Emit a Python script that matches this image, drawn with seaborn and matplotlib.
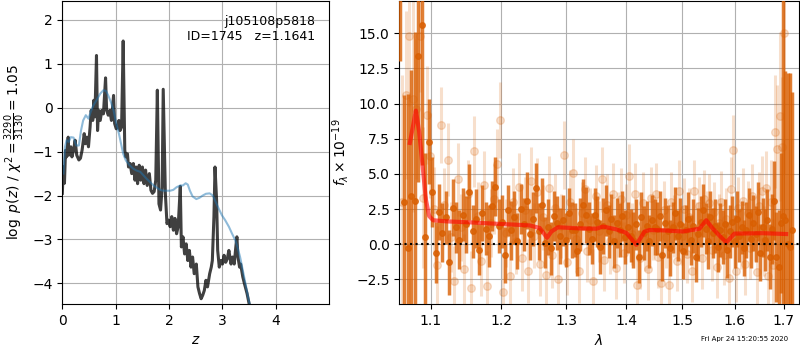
import numpy as np
import seaborn as sns
import matplotlib.pyplot as plt
from matplotlib.ticker import FixedLocator, NullLocator, FormatStrFormatter, MultipleLocator

# 左图: log p(z)
z_pz = [0.00, 0.02, 0.04, 0.06, 0.08, 0.11, 0.12, 0.16, 0.18, 0.21, 0.24, 0.27, 0.31, 0.34,
        0.37, 0.41, 0.43, 0.46, 0.49, 0.52, 0.54, 0.57, 0.59, 0.61, 0.64, 0.66, 0.68, 0.71,
        0.74, 0.77, 0.81, 0.83, 0.86, 0.89, 0.92, 0.96, 0.98, 1.01, 1.03, 1.06, 1.08, 1.11,
        1.14, 1.17, 1.19, 1.22, 1.24, 1.27, 1.30, 1.33, 1.36, 1.38, 1.41, 1.44, 1.47, 1.50,
        1.53, 1.56, 1.59, 1.63, 1.66, 1.69, 1.72, 1.75, 1.78, 1.81, 1.84, 1.87, 1.89, 1.93,
        1.96, 1.99, 2.02, 2.05, 2.08, 2.11, 2.14, 2.17, 2.21, 2.23, 2.26, 2.29, 2.32, 2.35,
        2.38, 2.41, 2.44, 2.47, 2.51, 2.54, 2.57, 2.60, 2.63, 2.66, 2.69, 2.72, 2.76, 2.79,
        2.81, 2.84, 2.86, 2.89, 2.91, 2.94, 2.97, 3.00, 3.03, 3.06, 3.09, 3.12, 3.16, 3.19,
        3.22, 3.25, 3.27, 3.29, 3.32, 3.34, 3.38, 3.41, 3.46, 3.50, 3.53]
logpz = [-1.95, -1.35, -1.72, -0.97, -1.12, -0.67, -1.08, -0.89, -1.12, -0.97, -0.74, -1.08,
         -1.19, -1.15, -0.97, -0.59, -0.82, -0.67, -0.89, -0.44, -0.06, -0.29, 0.17, -0.21,
         1.19, -0.52, -0.06, -0.29, -0.06, -0.14, 0.68, -0.06, -0.17, -0.06, -0.29, 0.28,
         -0.36, -0.48, -0.44, -0.29, -0.52, -0.44, 1.52, -0.97, -1.12, -1.05, -1.35, -1.27,
         -1.50, -1.27, -1.65, -1.35, -1.73, -1.31, -1.65, -1.35, -1.73, -1.42, -1.77, -1.50,
         -1.88, -1.95, -1.91, -1.65, 0.40, -2.19, -2.33, -1.81, 0.42, -1.95, -2.64, -2.56,
         -2.71, -2.48, -2.79, -2.52, -2.87, -2.71, -1.79, -3.17, -2.94, -3.33, -3.10, -3.48,
         -3.25, -3.63, -3.40, -3.78, -3.56, -4.08, -4.23, -4.35, -4.27, -4.16, -3.93, -4.08,
         -3.78, -3.63, -3.48, -2.48, -1.35, -2.11, -3.25, -3.63, -3.48, -3.56, -3.36, -3.52,
         -3.44, -3.25, -3.56, -3.40, -3.56, -3.17, -2.94, -3.40, -3.63, -3.56, -3.85, -4.00,
         -4.23, -4.47, -4.70]

z_prior = [0.02, 0.05, 0.08, 0.12, 0.16, 0.21, 0.26, 0.31, 0.35, 0.39, 0.44, 0.49, 0.53,
           0.58, 0.64, 0.71, 0.77, 0.82, 0.86, 0.91, 0.96, 1.01, 1.06, 1.10, 1.14, 1.19,
           1.26, 1.33, 1.39, 1.46, 1.52, 1.58, 1.64, 1.71, 1.77, 1.83, 1.89, 1.96, 2.02,
           2.08, 2.14, 2.21, 2.26, 2.31, 2.35, 2.39, 2.44, 2.51, 2.57, 2.63, 2.69, 2.76,
           2.82, 2.86, 2.93, 2.99, 3.05, 3.12, 3.18, 3.24, 3.28, 3.33, 3.38, 3.43, 3.48, 3.52]
log_prior = [-1.50, -0.89, -0.74, -0.78, -0.67, -0.68, -0.86, -0.86, -0.52, -0.29, -0.17,
             -0.25, -0.10, 0.05, 0.17, 0.32, 0.40, 0.38, 0.28, 0.13, -0.06, -0.36, -0.59,
             -0.82, -1.05, -1.20, -1.31, -1.39, -1.43, -1.46, -1.54, -1.62, -1.69, -1.77,
             -1.82, -1.87, -1.89, -1.89, -1.89, -1.87, -1.81, -1.77, -1.77, -1.72, -1.75,
             -1.89, -2.02, -2.08, -2.05, -2.00, -1.96, -1.95, -2.00, -2.11, -2.30, -2.45,
             -2.56, -2.71, -2.87, -3.02, -3.17, -3.40, -3.70, -4.00, -4.31, -4.53]

# 右图: 光谱 (等间隔波长像素)
wave_start_dark, wave_start_light, wave_step = 1.0595, 1.0618, 0.0047
flux_dark = [20.0, 3.0, -0.3, 3.4, 3.1, 13.4, 15.6, 0.5, 7.3, 3.7,
             -0.6, 2.3, 0.8, 1.9, -1.3, 2.6, 1.2, 0.3, 2.1, 1.4,
             3.7, 0.9, 1.8, -0.4, 2.2, 1.1, 0.6, 2.7, 4.1, 1.3,
             1.6, -0.8, 2.4, 1.0, 1.9, 0.2, 2.5, 1.4, 3.1, 0.7,
             1.8, 4.0, 0.9, 2.8, 0.1, 1.2, -0.3, 2.0, 1.5, 0.6,
             1.7, 0.3, 2.2, 1.0, 1.0, -0.5, 1.4, 2.8, 2.1, 1.1,
             0.4, 2.1, 1.6, -0.2, 1.3, 2.4, 0.9, 1.8, 0.2, 1.5,
             1.0, 2.0, 0.5, 1.2, 0.6, 0.3, 1.4, -0.9, 1.9, 0.8,
             1.3, 0.2, 1.7, 1.2, 1.1, 2.0, -0.75, 1.5, 0.9, -0.3,
             1.2, 2.2, 0.6, 1.4, -0.5, 1.0, 1.8, 0.3, 1.3, -0.9,
             0.7, 1.6, 2.4, 1.1, 0.2, 1.9, 0.8, 1.3, -0.2, 1.0,
             0.5, 1.4, -0.4, 0.9, 1.6, 0.2, 1.8, 0.6, 1.2, -0.3,
             1.0, 2.1, 0.4, 1.5, 0.7, 2.3, -0.6, 1.2, 0.3, 1.7,
             -0.9, 1.1, 3.1, -0.9, -1.6, 1.5, 2.0, 1.7, 0.0, -0.2, 1.0]
err_dark = [7.0, 7.6, 11.0, 9.0, 12.0, 9.0, 10.0, 6.0, 3.0, 2.5,
            2.2, 2.0, 2.1, 1.9, 2.3, 2.0, 1.8, 2.1, 1.9, 2.0,
            2.0, 1.9, 2.1, 1.8, 2.0, 1.9, 2.2, 1.8, 2.1, 1.9,
            1.9, 2.0, 1.8, 2.1, 1.9, 2.0, 1.8, 1.9, 2.0, 1.8,
            1.9, 1.8, 2.0, 1.9, 1.8, 2.0, 1.9, 1.8, 1.9, 2.0,
            1.8, 1.9, 1.8, 2.0, 1.9, 1.8, 1.9, 1.8, 2.0, 1.9,
            1.8, 1.9, 1.8, 1.9, 2.0, 1.8, 1.9, 1.8, 1.9, 1.8,
            1.9, 1.8, 1.9, 1.8, 1.9, 2.0, 1.8, 1.9, 1.8, 1.9,
            1.8, 1.9, 1.8, 2.0, 1.9, 1.8, 1.9, 1.8, 1.9, 2.0,
            1.8, 1.9, 1.8, 1.9, 2.0, 1.8, 1.9, 1.8, 1.9, 1.8,
            1.9, 1.8, 1.9, 1.8, 2.0, 1.9, 1.8, 1.9, 1.8, 1.9,
            1.9, 1.8, 2.0, 1.9, 1.8, 1.9, 2.0, 1.9, 1.9, 2.0,
            2.0, 1.9, 2.1, 2.0, 2.0, 2.1, 2.0, 2.1, 2.2, 2.2,
            2.3, 2.5, 2.8, 3.2, 4.0, 5.0, 20.0, 10.6, 12.2, 12.4, 9.8]
flux_light = [3.0, 10.6, 14.8, 10.3, 9.6, 14.8, 3.3, 9.2, 6.3, 2.5,
              -1.5, 8.5, 2.8, 6.0, 0.5, -2.65, 4.6, 1.2, -1.8, 3.6,
              -3.1, 6.6, 2.0, -1.2, 4.2, -3.0, 1.5, 3.2, 5.7, 8.85,
              -3.4, 0.8, -2.25, 3.0, 0.2, 4.1, -1.0, 2.4, -1.9, 4.5,
              0.6, 3.7, -1.4, 1.9, -2.2, 4.0, -0.8, 2.6, -2.5, 1.3,
              6.35, -1.3, 3.0, 5.05, 0.4, -1.9, 2.2, 3.9, -0.5, 1.7,
              -2.65, 3.4, 0.9, 4.6, -1.1, 2.8, 0.2, 3.6, -1.7, 1.4,
              3.2, -0.6, 2.1, 4.85, 0.7, 3.6, -2.9, -1.0, 2.9, 0.3,
              -1.8, 3.3, 1.0, 3.6, -0.9, -2.8, 2.4, 0.5, -2.9, 3.0,
              1.3, -1.2, 3.8, 0.6, 2.5, -0.7, 1.9, -1.9, 3.8, 0.9,
              2.7, -1.0, 3.2, 1.6, 2.9, -0.4, 2.3, -1.6, 1.5, 3.0,
              -0.8, 1.8, -2.4, 3.9, 6.7, -1.9, 2.6, 0.4, 3.1, -1.4,
              2.2, -0.3, 3.4, 1.1, -2.0, 2.7, 3.8, 0.2, 4.0, -2.3,
              3.0, -1.5, 8.0, 6.8, 9.1, 6.9, 15.0]
err_light = [9.0, 6.0, 5.0, 8.0, 5.0, 4.0, 5.0, 3.5, 3.0, 3.0,
             2.8, 2.7, 2.6, 2.6, 2.5, 2.5, 2.6, 2.4, 2.5, 2.4,
             2.6, 2.5, 2.4, 2.5, 2.4, 2.5, 2.4, 2.5, 2.5, 2.7,
             2.6, 2.4, 2.5, 2.4, 2.3, 2.4, 2.3, 2.4, 2.3, 2.4,
             2.3, 2.4, 2.3, 2.3, 2.4, 2.3, 2.3, 2.4, 2.3, 2.3,
             2.4, 2.3, 2.3, 2.4, 2.2, 2.3, 2.2, 2.3, 2.2, 2.3,
             2.3, 2.2, 2.2, 2.3, 2.2, 2.2, 2.3, 2.2, 2.2, 2.3,
             2.2, 2.2, 2.2, 2.3, 2.2, 2.2, 2.3, 2.2, 2.2, 2.2,
             2.2, 2.2, 2.1, 2.2, 2.2, 2.3, 2.1, 2.2, 2.2, 2.1,
             2.2, 2.1, 2.2, 2.1, 2.2, 2.1, 2.1, 2.2, 2.2, 2.1,
             2.1, 2.2, 2.1, 2.2, 2.1, 2.2, 2.1, 2.2, 2.1, 2.2,
             2.1, 2.2, 2.2, 2.3, 2.5, 2.2, 2.2, 2.2, 2.3, 2.2,
             2.3, 2.2, 2.3, 2.3, 2.4, 2.4, 2.5, 2.5, 2.6, 2.8,
             3.0, 3.3, 4.0, 4.5, 6.0, 5.0, 10.0]
model_wave = [1.0719, 1.0799, 1.0843, 1.0888, 1.0932, 1.0977, 1.1031, 1.1215, 1.1542,
              1.1928, 1.2225, 1.2427, 1.2581, 1.2695, 1.2764, 1.2868, 1.3217, 1.3491,
              1.3602, 1.3828, 1.4000, 1.4173, 1.4319, 1.4407, 1.4645, 1.5011, 1.5323,
              1.5450, 1.5576, 1.5705, 1.5835, 1.5998, 1.6566, 1.7050]
model_flux = [7.2, 9.5, 8.0, 5.6, 3.2, 2.0, 1.7, 1.62, 1.55, 1.45, 1.38, 1.33, 1.15,
              0.45, 0.9, 1.2, 1.12, 1.1, 1.25, 1.05, 0.8, -0.05, 0.9, 1.0, 0.98, 0.9,
              1.1, 1.7, 1.1, 0.6, 0.12, 0.75, 0.78, 0.72]

wave_dark = wave_start_dark + wave_step * np.arange(len(flux_dark))
wave_light = wave_start_light + wave_step * np.arange(len(flux_light))

fig = plt.figure(figsize=(8, 3.5), dpi=100)

# p(z)
ax1 = fig.add_axes([0.0779, 0.1314, 0.333, 0.8657])
sns.lineplot(x=z_pz, y=logpz, ax=ax1, color='k', alpha=0.75, lw=2.2, estimator=None, sort=False)
sns.lineplot(x=z_prior, y=log_prior, ax=ax1, color='tab:blue', alpha=0.5, lw=1.5,
             estimator=None, sort=False)
ax1.set_xlim(0, 4.99)
ax1.set_ylim(-4.47, 2.43)
ax1.xaxis.set_major_locator(MultipleLocator(1))
ax1.yaxis.set_major_locator(MultipleLocator(1))
ax1.grid(True)
ax1.set_xlabel(r'$z$')
ax1.set_ylabel(r'$\log\ p(z)$' + ' / ' + r'$\chi^2=\frac{3290}{3130}=1.05$')
ax1.text(0.95, 0.955, 'j105108p5818\nID=1745   z=1.1641', transform=ax1.transAxes,
         ha='right', va='top', fontsize=9)

# spectrum
c = '#d95f02'
ax2 = fig.add_axes([0.4991, 0.1314, 0.4995, 0.8657])
ax2.errorbar(wave_light, flux_light, err_light, fmt='o', color=c, alpha=0.2, ms=5.5,
             lw=2.2, zorder=2)
ax2.errorbar(wave_dark, flux_dark, err_dark, fmt='o', color=c, alpha=0.8, ms=4,
             lw=2.5, zorder=3)
sns.lineplot(x=model_wave, y=model_flux, ax=ax2, color='red', alpha=0.6, lw=3,
             estimator=None, sort=False, zorder=4)
ax2.axhline(0, color='k', ls=':', lw=1.5, zorder=5)
ax2.set_xscale('log')
ax2.set_xlim(1.058, 1.732)
ax2.set_ylim(-4.26, 17.3)
ax2.xaxis.set_major_locator(FixedLocator([1.1, 1.2, 1.3, 1.4, 1.5, 1.6, 1.7]))
ax2.xaxis.set_major_formatter(FormatStrFormatter('%.1f'))
ax2.xaxis.set_minor_locator(NullLocator())
ax2.yaxis.set_major_locator(MultipleLocator(2.5))
ax2.grid(True)
ax2.set_xlabel(r'$\lambda$')
ax2.set_ylabel(r'$f_\lambda \times 10^{-19}$')

fig.text(0.985, 0.031, 'Fri Apr 24 15:20:55 2020', ha='right', va='center', fontsize=5)

fig.savefig('out.png', dpi=100)
